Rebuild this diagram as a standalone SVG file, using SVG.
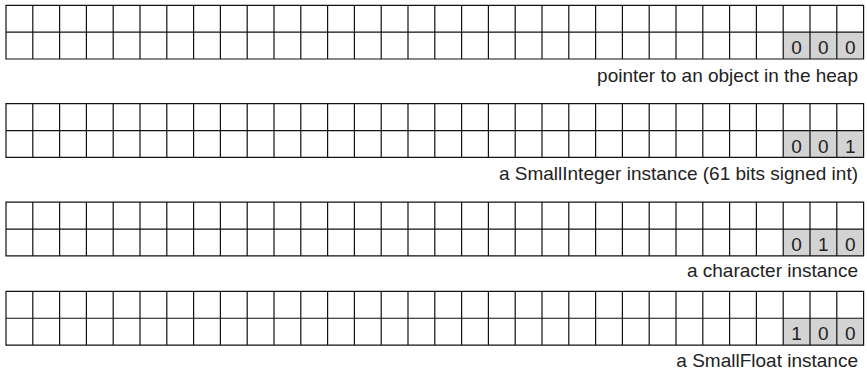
<svg xmlns="http://www.w3.org/2000/svg" xmlns:xlink="http://www.w3.org/1999/xlink" width="867" height="372" viewBox="0 0 867 372">
<style>
.grid{fill:none;stroke:#111;stroke-width:1.2}
.tag{fill:#d3d3d3}
.bit{font-family:"Liberation Sans",Arial,Helvetica,sans-serif;font-size:19px;fill:#222;text-anchor:middle}
.lbl{font-family:"Liberation Sans",Arial,Helvetica,sans-serif;font-size:19px;fill:#222;text-anchor:end}
</style>
<defs>
<path id="grid" class="grid" d="M0 0H857.6V53.7H0Z M0 26.85H857.6 M26.8 0V53.7 M53.6 0V53.7 M80.4 0V53.7 M107.2 0V53.7 M134 0V53.7 M160.8 0V53.7 M187.6 0V53.7 M214.4 0V53.7 M241.2 0V53.7 M268 0V53.7 M294.8 0V53.7 M321.6 0V53.7 M348.4 0V53.7 M375.2 0V53.7 M402 0V53.7 M428.8 0V53.7 M455.6 0V53.7 M482.4 0V53.7 M509.2 0V53.7 M536 0V53.7 M562.8 0V53.7 M589.6 0V53.7 M616.4 0V53.7 M643.2 0V53.7 M670 0V53.7 M696.8 0V53.7 M723.6 0V53.7 M750.4 0V53.7 M777.2 0V53.7 M804 0V53.7 M830.8 0V53.7"/>
<rect id="tagcells" class="tag" x="777.2" y="26.85" width="80.4" height="26.85"/>
</defs>
<g id="pointer" transform="translate(6,5.3)">
<use xlink:href="#tagcells" href="#tagcells"/>
<use xlink:href="#grid" href="#grid"/>
<text class="bit" x="790.6" y="49">0</text>
<text class="bit" x="817.4" y="49">0</text>
<text class="bit" x="844.2" y="49">0</text>
<text class="lbl" x="852" y="76.5">pointer to an object in the heap</text>
</g>
<g id="smallinteger" transform="translate(6,103.7)">
<use xlink:href="#tagcells" href="#tagcells"/>
<use xlink:href="#grid" href="#grid"/>
<text class="bit" x="790.6" y="49">0</text>
<text class="bit" x="817.4" y="49">0</text>
<text class="bit" x="844.2" y="49">1</text>
<text class="lbl" x="852" y="76">a SmallInteger instance (61 bits signed int)</text>
</g>
<g id="character" transform="translate(6,202.2)">
<use xlink:href="#tagcells" href="#tagcells"/>
<use xlink:href="#grid" href="#grid"/>
<text class="bit" x="790.6" y="49">0</text>
<text class="bit" x="817.4" y="49">1</text>
<text class="bit" x="844.2" y="49">0</text>
<text class="lbl" x="852" y="75">a character instance</text>
</g>
<g id="smallfloat" transform="translate(6,291.4)">
<use xlink:href="#tagcells" href="#tagcells"/>
<use xlink:href="#grid" href="#grid"/>
<text class="bit" x="790.6" y="49">1</text>
<text class="bit" x="817.4" y="49">0</text>
<text class="bit" x="844.2" y="49">0</text>
<text class="lbl" x="852" y="75.5">a SmallFloat instance</text>
</g>
</svg>
